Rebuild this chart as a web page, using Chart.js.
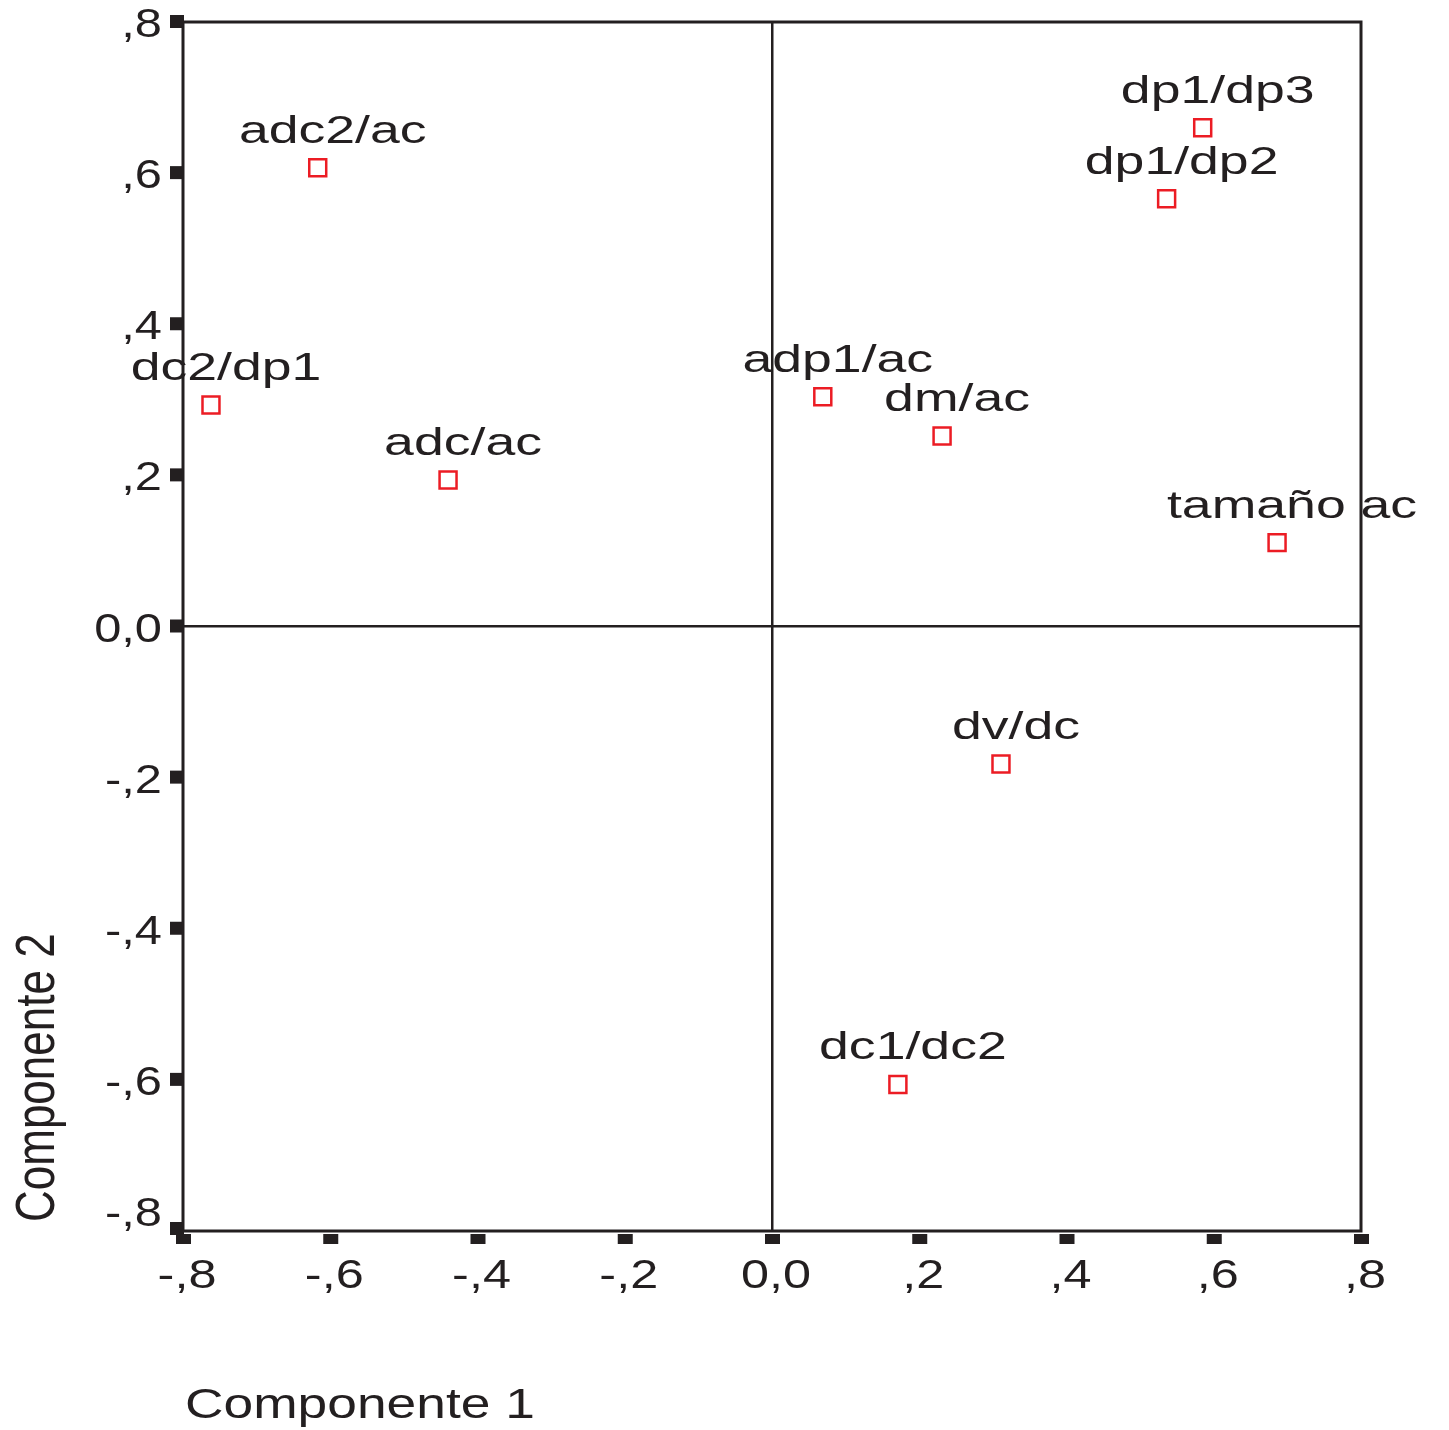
<!DOCTYPE html>
<html>
<head>
<meta charset="utf-8">
<title>Componente 1 / Componente 2</title>
<script src="https://cdn.jsdelivr.net/npm/chart.js@4.4.1/dist/chart.umd.min.js"></script>
<style>
  body { margin: 0; background: #fff; }
  #wrap { width: 1449px; height: 1430px; position: relative; }
</style>
</head>
<body>
<div id="wrap"><canvas id="plot"></canvas></div>
<script>
// component loadings
var varLabels = ['adc2/ac', 'dc2/dp1', 'adc/ac', 'adp1/ac', 'dm/ac', 'dp1/dp3', 'dp1/dp2', 'tamaño ac', 'dv/dc', 'dc1/dc2'];
var comp1 = [-0.617, -0.762, -0.440, 0.069, 0.231, 0.585, 0.536, 0.686, 0.311, 0.171];
var comp2 = [0.607, 0.293, 0.194, 0.304, 0.252, 0.660, 0.566, 0.111, -0.182, -0.606];

var tickValues = [-0.8, -0.6, -0.4, -0.2, 0, 0.2, 0.4, 0.6, 0.8];
var xTickLabels = ['-,8', '-,6', '-,4', '-,2', '0,0', ',2', ',4', ',6', ',8'];
var yTickLabels = ['-,8', '-,6', '-,4', '-,2', '0,0', ',2', ',4', ',6', ',8'];
var xTitle = 'Componente 1';
var yTitle = 'Componente 2';

var INK = '#231f20';
var RED = '#ec1c24';
var FONT = 'Arial, "Liberation Sans", Helvetica, sans-serif';

// the original picture is stretched sideways, so text is drawn wider than normal
function wideText(ctx, text, x, y, size, sx, align, baseline) {
    ctx.save();
    ctx.translate(x, y);
    ctx.scale(sx, 1);
    ctx.font = size + 'px ' + FONT;
    ctx.textAlign = align;
    ctx.textBaseline = baseline;
    ctx.fillText(text, 0, 0);
    ctx.restore();
}

var decorations = {
    id: 'decorations',
    afterDatasetsDraw: function (chart) {
        var ctx = chart.ctx;
        var area = chart.chartArea;
        var xs = chart.scales.x;
        var ys = chart.scales.y;

        ctx.save();
        // frame
        ctx.strokeStyle = INK;
        ctx.lineWidth = 3;
        ctx.strokeRect(area.left, area.top, area.right - area.left, area.bottom - area.top);

        ctx.fillStyle = INK;
        // tick marks
        tickValues.forEach(function (v) {
            var py = ys.getPixelForValue(v);
            var ty = Math.min(Math.max(py, area.top - 2), area.bottom - 2);
            ctx.fillRect(area.left - 13, ty - 7, 14, 13);
            var px = xs.getPixelForValue(v);
            ctx.fillRect(px - 7, area.bottom + 3, 15, 10);
        });

        // tick labels
        tickValues.forEach(function (v, i) {
            var py = ys.getPixelForValue(v);
            var ly = Math.min(py + 4, area.bottom - 16);
            wideText(ctx, yTickLabels[i], area.left - 21, ly, 40, 1.22, 'right', 'middle');
            var px = xs.getPixelForValue(v);
            wideText(ctx, xTickLabels[i], px + 4, area.bottom + 46, 40, 1.26, 'center', 'middle');
        });

        // point labels
        var meta = chart.getDatasetMeta(0);
        meta.data.forEach(function (pt, i) {
            wideText(ctx, varLabels[i], pt.x + 15, pt.y - 25, 38, 1.41, 'center', 'alphabetic');
        });

        // axis titles
        wideText(ctx, xTitle, area.left + 2, 1418, 42, 1.27, 'left', 'alphabetic');

        ctx.translate(54, 1222);
        ctx.scale(1.28, 1);
        ctx.rotate(-Math.PI / 2);
        ctx.font = '44px ' + FONT;
        ctx.textAlign = 'left';
        ctx.textBaseline = 'alphabetic';
        ctx.fillText(yTitle, 0, 0);
        ctx.restore();
    }
};

function zeroLine(c) {
    return c.tick && Math.abs(c.tick.value) < 1e-9 ? INK : 'rgba(0,0,0,0)';
}

var points = comp1.map(function (x, i) {
    return { x: x, y: comp2[i] };
});

new Chart(document.getElementById('plot'), {
    type: 'scatter',
    data: {
        datasets: [{
            label: 'loadings',
            data: points,
            pointStyle: 'rect',
            pointRadius: 12,
            pointHoverRadius: 12,
            borderWidth: 2.5,
            borderColor: RED,
            backgroundColor: 'rgba(0,0,0,0)'
        }]
    },
    options: {
        responsive: true,
        maintainAspectRatio: false,
        animation: false,
        layout: { padding: { left: 183, right: 88, top: 22, bottom: 199 } },
        plugins: {
            legend: { display: false },
            tooltip: { enabled: false }
        },
        scales: {
            x: {
                type: 'linear',
                min: -0.8,
                max: 0.8,
                ticks: { display: false, stepSize: 0.2 },
                border: { display: false },
                grid: { drawTicks: false, color: zeroLine, lineWidth: 2.5 }
            },
            y: {
                type: 'linear',
                min: -0.8,
                max: 0.8,
                ticks: { display: false, stepSize: 0.2 },
                border: { display: false },
                grid: { drawTicks: false, color: zeroLine, lineWidth: 2.5 }
            }
        }
    },
    plugins: [decorations]
});
</script>
</body>
</html>
